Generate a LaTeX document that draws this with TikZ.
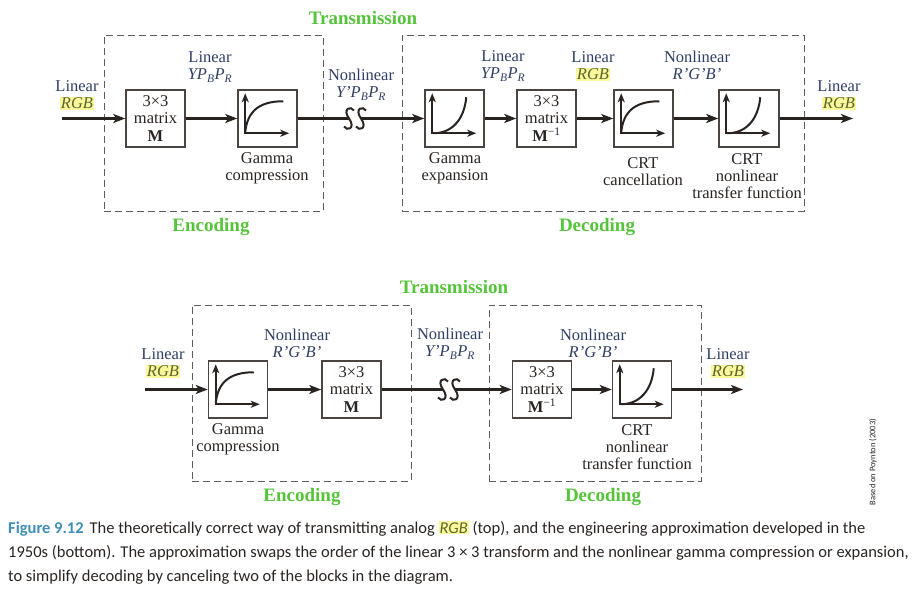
\documentclass[tikz,border=0pt]{standalone}
\usepackage{fontspec}
\setmainfont{Liberation Serif}
\newfontfamily\capfont{Carlito}
\usepackage{graphicx}
\usetikzlibrary{arrows.meta,positioning,calc}
\definecolor{FigNavy}{HTML}{2F3E64}
\definecolor{FigGreen}{HTML}{55C43A}
\definecolor{FigInk}{HTML}{2A2420}
\definecolor{FigBox}{HTML}{4A4540}
\definecolor{FigDash}{HTML}{5E5E5E}
\definecolor{FigHi}{HTML}{FAF89A}
\definecolor{FigOlive}{HTML}{5C6530}
\definecolor{FigTeal}{HTML}{3D8EB9}
\newcommand{\hilite}[1]{\smash{\setlength{\fboxsep}{1pt}\colorbox{FigHi}{\textcolor{FigOlive}{\textit{#1}}}}}

\begin{document}
\begin{tikzpicture}[x=1pt,y=-1pt,
  blk/.style={draw=FigBox, line width=1.5pt, fill=white, minimum width=59pt,
    minimum height=57pt, inner sep=0pt, align=center, text=FigInk,
    font=\fontsize{16.5}{17.5}\selectfont},
  grp/.style={draw=FigDash, line width=0.9pt, dash pattern=on 7pt off 4pt, inner sep=0pt},
  lbl/.style={align=center, text=FigNavy, inner sep=0pt, font=\fontsize{16.5}{17}\selectfont},
  blkcap/.style={align=center, text=FigInk, inner sep=0pt, font=\fontsize{16.5}{17}\selectfont},
  ttl/.style={text=FigGreen, inner sep=0pt, font=\bfseries\fontsize{19}{20}\selectfont},
  sig/.style={draw=FigInk, line width=2.2pt, -{Stealth[length=12pt,width=9pt,inset=3pt]}},
  wire/.style={draw=FigInk, line width=2.2pt},
  axis/.style={draw=FigInk, line width=2pt, {Stealth[length=9pt,width=7pt,inset=2.5pt]}-{Stealth[length=9pt,width=7pt,inset=2.5pt]}},
  gam/.style={draw=FigInk, line width=2pt},
  brk/.style={draw=FigInk, line width=2pt},
  capl/.style={anchor=base west, inner sep=0pt, text=FigInk, font=\capfont\fontsize{16.5}{18}\selectfont}
]
  \useasboundingbox (0,0) rectangle (913,592);

  % top: theoretically correct
  \node[ttl] (transT) at (363,18) {Transmission};
  \node[grp, minimum width=219pt, minimum height=176pt] (encT) at (213.5,123) {};
  \node[grp, minimum width=402pt, minimum height=176pt] (decT) at (603,123) {};
  \node[ttl] (encTl) at (211,227) {Encoding};
  \node[ttl] (decTl) at (597,227) {Decoding};

  \node[blk] (matM) at (155.5,118.5) {3×3\\matrix\\\textbf{M}};
  \node[blk] (gamC) at (267.5,118.5) {};
  \node[blk] (gamE) at (454.5,118.5) {};
  \node[blk] (matMi) at (546.5,118.5) {3×3\\matrix\\\textbf{M}\textsuperscript{−1}};
  \node[blk] (crtC) at (643.5,118.5) {};
  \node[blk, minimum width=60pt] (crtN) at (749,118.5) {};

  \coordinate (inA) at (62,118.5);
  \coordinate (brkA) at (349,118.5);
  \coordinate (brkB) at (361,118.5);
  \coordinate (outA) at (853,118.5);

  \node[lbl] (inL) at (77,95) {Linear\\\hilite{RGB}};
  \node[lbl] (ypbA) at (210,67) {Linear\\\textit{YP\textsubscript{B}P\textsubscript{R}}};
  \node[lbl] (nonA) at (361,85) {Nonlinear\\\textit{Y'P\textsubscript{B}P\textsubscript{R}}};
  \node[lbl] (ypbB) at (503,66) {Linear\\\textit{YP\textsubscript{B}P\textsubscript{R}}};
  \node[lbl] (rgbA) at (593,66) {Linear\\\hilite{RGB}};
  \node[lbl] (rgbpA) at (697,65) {Nonlinear\\\textit{R'G'B'}};
  \node[lbl] (outL) at (839,95) {Linear\\\hilite{RGB}};

  \node[blkcap] (capGC) at (267,168.5) {Gamma\\compression};
  \node[blkcap] (capGE) at (455,168.5) {Gamma\\expansion};
  \node[blkcap] (capCC) at (643,172) {CRT\\cancellation};
  \node[blkcap] (capCN) at (747,176.5) {CRT\\nonlinear\\transfer function};

  \draw[sig] (inA) -- (matM);
  \draw[sig] (matM) -- (gamC);
  \draw[wire] (gamC) -- (brkA);
  \draw[sig] (brkB) -- (gamE);
  \draw[sig] (gamE) -- (matMi);
  \draw[sig] (matMi) -- (crtC);
  \draw[sig] (crtC) -- (crtN);
  \draw[sig] (crtN) -- (outA);

  % bottom: engineering approximation
  \node[ttl] (transB) at (454,287) {Transmission};
  \node[grp, minimum width=219pt, minimum height=176pt] (encB) at (301.5,393) {};
  \node[grp, minimum width=212pt, minimum height=176pt] (decB) at (595,393) {};
  \node[ttl] (encBl) at (302,497) {Encoding};
  \node[ttl] (decBl) at (603,497) {Decoding};

  \node[blk] (gamC2) at (238,389.5) {};
  \node[blk] (matM2) at (351.5,389.5) {3×3\\matrix\\\textbf{M}};
  \node[blk] (matMi2) at (542,389.5) {3×3\\matrix\\\textbf{M}\textsuperscript{−1}};
  \node[blk] (crtN2) at (642,389.5) {};

  \coordinate (inB) at (145,389.5);
  \coordinate (brkC) at (443,389.5);
  \coordinate (brkD) at (455,389.5);
  \coordinate (outB) at (743,389.5);

  \node[lbl] (inL2) at (163,363) {Linear\\\hilite{RGB}};
  \node[lbl] (rgbpB) at (297,343.5) {Nonlinear\\\textit{R'G'B'}};
  \node[lbl] (nonB) at (450,344) {Nonlinear\\\textit{Y'P\textsubscript{B}P\textsubscript{R}}};
  \node[lbl] (rgbpC) at (593,343.5) {Nonlinear\\\textit{R'G'B'}};
  \node[lbl] (outL2) at (728,363) {Linear\\\hilite{RGB}};

  \node[blkcap] (capGC2) at (238,439) {Gamma\\compression};
  \node[blkcap] (capCN2) at (637,447) {CRT\\nonlinear\\transfer function};

  \draw[sig] (inB) -- (gamC2);
  \draw[sig] (gamC2) -- (matM2);
  \draw[wire] (matM2) -- (brkC);
  \draw[sig] (brkD) -- (matMi2);
  \draw[sig] (matMi2) -- (crtN2);
  \draw[sig] (crtN2) -- (outB);

  % transfer curves
  \foreach \b in {gamC,crtC,gamC2} {
    \draw[axis] ($(\b.north west)+(8,4)$) |- ($(\b.north west)+(52,44)$);
    \draw[gam] ($(\b.north west)+(8,43)$) .. controls ($(\b.north west)+(10,22)$) and ($(\b.north west)+(22,12)$) .. ($(\b.north west)+(46,12)$);
  }
  \foreach \b in {gamE,crtN,crtN2} {
    \draw[axis] ($(\b.north west)+(8,4)$) |- ($(\b.north west)+(52,44)$);
    \draw[gam] ($(\b.north west)+(9,44)$) .. controls ($(\b.north west)+(28,44)$) and ($(\b.north west)+(40,30)$) .. ($(\b.north west)+(42,8)$);
  }

  % line breaks
  \foreach \sx/\sy in {349/118.5,361/118.5,443/389.5,455/389.5}
    \draw[brk] (\sx+5,\sy-8) .. controls (\sx+2,\sy-13) and (\sx-7,\sy-10) .. (\sx,\sy)
      .. controls (\sx+7,\sy+10) and (\sx-2,\sy+13) .. (\sx-5,\sy+8);

  \node[rotate=90, inner sep=0pt, text=FigInk, font=\capfont\fontsize{8.5}{9}\selectfont] (credit) at (873,462) {Based on Poynton (2003)};

  % caption
  \node[capl] (capA) at (8,533) {\textcolor{FigTeal}{\textbf{Figure 9.12}}\hspace{6pt}The theoretically correct way of transmitting analog \hilite{RGB} (top), and the engineering approximation developed in the};
  \node[capl] (capB) at (8,557) {1950s (bottom). The approximation swaps the order of the linear 3 × 3 transform and the nonlinear gamma compression or expansion,};
  \node[capl] (capC) at (8,581) {to simplify decoding by canceling two of the blocks in the diagram.};
\end{tikzpicture}
\end{document}
